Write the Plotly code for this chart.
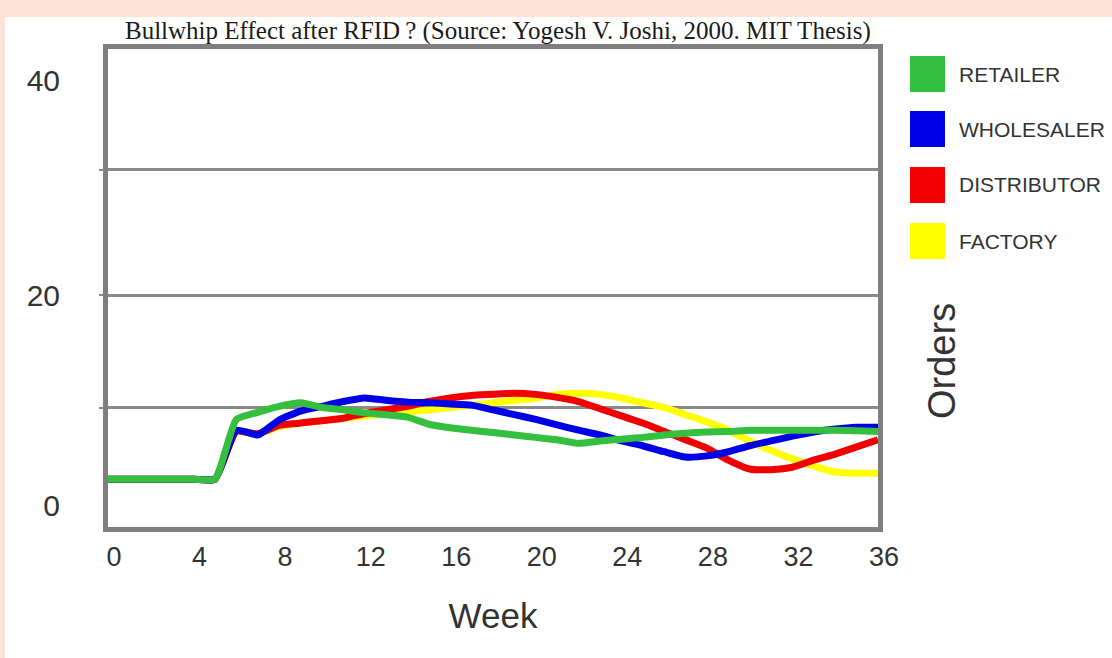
import plotly.graph_objects as go

# ---- data ----
weeks = list(range(37))
retailer = [4, 4, 4, 4, 4, 4, 9.0, 9.6, 10.1, 10.4, 10.0, 9.8, 9.55, 9.4, 9.2, 8.6, 8.3, 8.1,
            7.9, 7.7, 7.5, 7.3, 7.0, 7.2, 7.35, 7.5, 7.7, 7.85, 7.95, 8.0, 8.1, 8.1, 8.1, 8.1,
            8.1, 8.05, 8.0]
wholesaler = [4, 4, 4, 4, 4, 4, 8.1, 7.7, 8.95, 9.7, 10.1, 10.5, 10.8, 10.6, 10.45, 10.4, 10.3,
              10.2, 9.8, 9.4, 9.0, 8.55, 8.1, 7.7, 7.2, 6.8, 6.3, 5.85, 5.95, 6.3, 6.8, 7.2, 7.6,
              7.95, 8.2, 8.35, 8.35]
distributor = [4, 4, 4, 4, 4, 4, 8.0, 7.8, 8.5, 8.7, 8.9, 9.1, 9.5, 9.8, 10.1, 10.5, 10.8, 11.0,
               11.1, 11.2, 11.1, 10.85, 10.5, 9.9, 9.3, 8.7, 8.0, 7.3, 6.6, 5.6, 4.85, 4.8, 5.0,
               5.6, 6.1, 6.7, 7.3]
factory = [4, 4, 4, 4, 4, 4, 8.0, 7.8, 8.4, 8.7, 8.9, 9.1, 9.3, 9.5, 9.65, 9.8, 10.0, 10.2, 10.4,
           10.6, 10.8, 11.1, 11.2, 11.1, 10.8, 10.4, 10.0, 9.4, 8.8, 8.1, 7.2, 6.4, 5.7, 5.1,
           4.6, 4.5, 4.5]

series_names = ["RETAILER", "WHOLESALER", "DISTRIBUTOR", "FACTORY"]
series_values = [retailer, wholesaler, distributor, factory]
series_colors = ["#34bf3e", "#0000e6", "#f00000", "#ffff00"]

x_ticks = [0, 4, 8, 12, 16, 20, 24, 28, 32, 36]
y_tick_labels = ["0", "20", "40"]
y_tick_pos = [1.84, 19.4, 37.4]
grid_pos = [10, 19.4, 29.9]

title = "Bullwhip Effect after RFID\u2009? (Source: Yogesh V. Joshi, 2000. MIT Thesis)"

W, H = 1112, 658
L, R, T, B = 108, 234, 49, 131
PW, PH = W - L - R, H - T - B


def px(xp):
    return (xp - L) / PW


def py(yp):
    return (H - B - yp) / PH


fig = go.Figure()
# draw factory first so retailer ends up on top
for name, vals, col in reversed(list(zip(series_names, series_values, series_colors))):
    fig.add_trace(go.Scatter(x=weeks, y=vals, mode="lines", name=name,
                             line=dict(color=col, width=7, shape="spline", smoothing=0.5),
                             showlegend=False, hoverinfo="x+y+name"))

sans = "Liberation Sans, Arial, sans-serif"
fig.update_layout(
    width=W, height=H,
    margin=dict(l=L, r=R, t=T, b=B),
    paper_bgcolor="white", plot_bgcolor="white",
    showlegend=False,
    xaxis=dict(range=[0, 36], tickvals=x_ticks, showgrid=False, zeroline=False,
               showline=True, mirror=True, linecolor="#7f7f7f", linewidth=5,
               ticks="", tickfont=dict(family=sans, size=27, color="#333333"),
               ticklabelstandoff=2, ticklabelshift=6,
               title=dict(text="Week", font=dict(family=sans, size=35, color="#333333"),
                          standoff=34)),
    yaxis=dict(range=[0, 40], tickvals=y_tick_pos, ticktext=y_tick_labels, showgrid=False,
               zeroline=False, showline=True, mirror=True, linecolor="#7f7f7f", linewidth=5,
               ticks="", tickfont=dict(family=sans, size=30, color="#333333"),
               ticklabelstandoff=37,
               minor=dict(tickmode="array", tickvals=grid_pos, showgrid=True,
                          gridcolor="#8a8a8a", gridwidth=2.5, ticks="outside",
                          ticklen=4, tickcolor="#8a8a8a", tickwidth=2)),
)

shapes = []
peach = "#fce3d5"
# peach frame (top band, left strip)
shapes.append(dict(type="rect", xref="paper", yref="paper", x0=px(0), x1=px(W), y0=py(17),
                   y1=py(0), fillcolor=peach, line=dict(width=0), layer="below"))
shapes.append(dict(type="rect", xref="paper", yref="paper", x0=px(0), x1=px(5), y0=py(H),
                   y1=py(0), fillcolor=peach, line=dict(width=0), layer="below"))

annotations = []
legend_centers = [74, 129, 185, 241]
for name, col, cy in zip(series_names, series_colors, legend_centers):
    shapes.append(dict(type="rect", xref="paper", yref="paper", x0=px(910), x1=px(945),
                       y0=py(cy + 18), y1=py(cy - 18), fillcolor=col, line=dict(width=0)))
    annotations.append(dict(xref="paper", yref="paper", x=px(957), y=py(cy), text=name,
                            showarrow=False, xanchor="left", yanchor="middle",
                            font=dict(family=sans, size=21, color="#333333")))

annotations.append(dict(xref="paper", yref="paper", x=px(498), y=py(31), text=title,
                        showarrow=False, xanchor="center", yanchor="middle",
                        font=dict(family="Liberation Serif, Times New Roman, serif", size=25,
                                  color="#1a1a1a")))
annotations.append(dict(xref="paper", yref="paper", x=px(942), y=py(361), text="Orders",
                        showarrow=False, textangle=-90, xanchor="center", yanchor="middle",
                        font=dict(family=sans, size=38, color="#333333")))

fig.update_layout(shapes=shapes, annotations=annotations)
fig.write_html("out.html", config={"displayModeBar": False},
               post_script="document.body.style.margin='0';document.body.style.padding='0';")
